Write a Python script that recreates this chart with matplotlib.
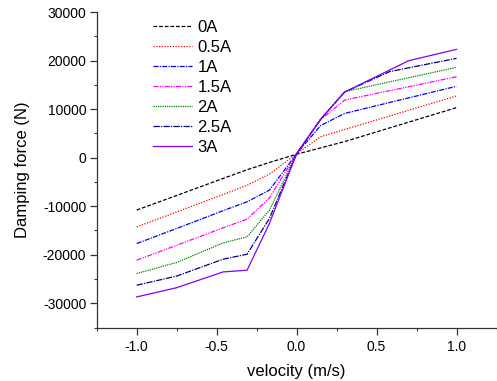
import matplotlib
matplotlib.use("Agg")
import matplotlib.pyplot as plt
from matplotlib.ticker import MultipleLocator, FormatStrFormatter

plt.rcParams['font.family'] = ['Liberation Sans', 'DejaVu Sans']
plt.rcParams['axes.unicode_minus'] = False

velocity = [-1.0, -0.75, -0.46, -0.31, -0.17, 0.0, 0.15, 0.30, 0.58, 0.70, 1.0]
labels = ["0A", "0.5A", "1A", "1.5A", "2A", "2.5A", "3A"]
f_0A   = [-10800, -7800, -4300, -2500, -1000, 700, 2000, 3300, 6100, 7300, 10300]
f_05A  = [-14270, -11200, -7600, -5700, -3400, 800, 4300, 5800, 8550, 9750, 12700]
f_1A   = [-17700, -14600, -10930, -9110, -6700, 800, 6600, 9100, 11350, 12300, 14700]
f_15A  = [-21130, -18060, -14470, -12680, -8300, 800, 7800, 11860, 13780, 14600, 16660]
f_2A   = [-23880, -21600, -17570, -16330, -10830, 800, 7900, 13570, 15600, 16450, 18600]
f_25A  = [-26290, -24400, -20930, -19900, -12540, 800, 7900, 13500, 17700, 18500, 20450]
f_3A   = [-28700, -26800, -23550, -23200, -13570, 800, 7900, 13500, 18020, 19960, 22300]

series = [f_0A, f_05A, f_1A, f_15A, f_2A, f_25A, f_3A]
colors = ['#000000', '#ff0000', '#0000ff', '#ff00ff', '#008000', '#000080', '#8000ff']
styles = [(0, (3, 1.5)), (0, (1, 1.2)), (0, (4, 1, 1, 1)), (0, (4, 1, 1, 1, 1, 1)),
          (0, (1, 0.8)), (0, (5, 1, 1, 1)), '-']

fig = plt.figure(figsize=(4.97, 3.81), dpi=100)
ax = fig.add_axes([0.1946, 0.1404, 0.8044, 0.8281])

for f, lab, c, ls in zip(series, labels, colors, styles):
    ax.plot(velocity, f, color=c, linestyle=ls, linewidth=0.9, label=lab)

ax.set_xlim(-1.25, 1.25)
ax.set_ylim(-35000, 30000)
ax.xaxis.set_major_locator(MultipleLocator(0.5))
ax.xaxis.set_minor_locator(MultipleLocator(0.25))
ax.yaxis.set_major_locator(MultipleLocator(10000))
ax.yaxis.set_minor_locator(MultipleLocator(5000))
ax.xaxis.set_major_formatter(FormatStrFormatter('%.1f'))
ax.yaxis.set_major_formatter(FormatStrFormatter('%d'))

for s in ['top', 'right']:
    ax.spines[s].set_visible(False)
for s in ['left', 'bottom']:
    ax.spines[s].set_color('#333333')
    ax.spines[s].set_linewidth(0.9)

ax.tick_params(which='major', direction='out', length=5, width=0.9, labelsize=10,
               color='#333333', pad=2.5)
ax.tick_params(which='minor', direction='out', length=2.5, width=0.8, color='#333333')
ax.tick_params(axis='x', which='major', pad=4)

ax.set_xlabel('velocity (m/s)', fontsize=12, labelpad=7)
ax.set_ylabel('Damping force (N)', fontsize=12, labelpad=9)

ax.legend(loc='upper left', bbox_to_anchor=(0.141, 0.975), frameon=False, fontsize=12,
          borderpad=0, borderaxespad=0,
          handlelength=2.35, handletextpad=0.3, labelspacing=0.3)

fig.savefig('out.png', dpi=100)
